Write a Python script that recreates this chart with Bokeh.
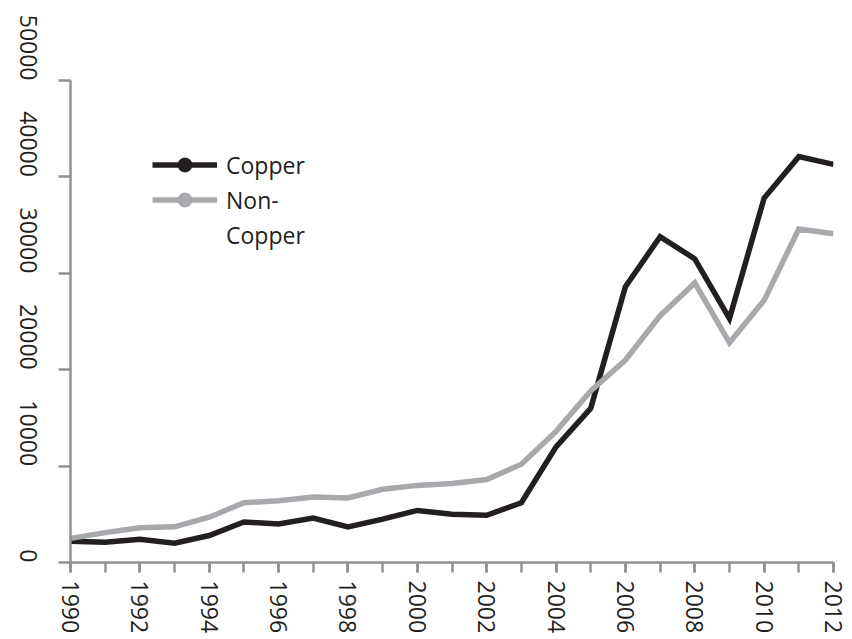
import math
from bokeh.plotting import figure
from bokeh.models import FixedTicker, Legend, LegendItem, Range1d, ColumnDataSource
from bokeh.embed import file_html
from bokeh.resources import INLINE

years = list(range(1990, 2013))
copper = [2200, 2100, 2400, 2000, 2800, 4200, 4000, 4600, 3700, 4500, 5400, 5000,
          4900, 6200, 12000, 16000, 28600, 33800, 31500, 25300, 37800, 42100, 41300]
non_copper = [2500, 3100, 3600, 3700, 4700, 6200, 6400, 6800, 6700, 7600, 8000, 8200,
              8600, 10200, 13600, 17800, 21000, 25600, 29000, 22800, 27200, 34600, 34100]

x_label_years = list(range(1990, 2013, 2))
y_ticks = [0, 10000, 20000, 30000, 40000, 50000]
y_tick_labels = ["0", "10000", "20000", "30000", "40000", "50000"]
legend_lines = ["Copper", "Non-", "Copper"]

FONT = "Open Sans"
AXIS_GRAY = "#8f9194"
TEXT = "#231f20"
CU_COLOR = "#231f20"
NC_COLOR = "#a7a9ac"

src = ColumnDataSource(dict(year=years, copper=copper, non_copper=non_copper))

p = figure(width=852, height=639, output_backend="svg", toolbar_location=None,
           x_range=Range1d(1990, 2012), y_range=Range1d(0, 50000),
           min_border_left=70, min_border_top=80, min_border_right=19, min_border_bottom=77)
p.outline_line_color = None
p.grid.visible = False
p.background_fill_color = "white"
p.border_fill_color = "white"

r_cu = p.line("year", "copper", source=src, line_color=CU_COLOR, line_width=5.5, line_join="miter")
r_nc = p.line("year", "non_copper", source=src, line_color=NC_COLOR, line_width=5.5, line_join="miter")

# hidden marker renderers: only their legend glyphs are shown
m_cu = p.scatter("year", "copper", source=src, size=16, color=CU_COLOR, visible=False)
m_nc = p.scatter("year", "non_copper", source=src, size=16, color=NC_COLOR, visible=False)
r_blank = p.line("year", "non_copper", source=src, line_alpha=0)

xa = p.xaxis[0]
xa.ticker = FixedTicker(ticks=x_label_years, minor_ticks=years)
xa.major_label_overrides = {y: str(y) for y in x_label_years}
xa.major_label_orientation = -math.pi / 2
xa.major_tick_out = 10
xa.major_tick_in = 0
xa.minor_tick_out = 10
xa.minor_tick_in = 0
xa.major_label_standoff = 8

ya = p.yaxis[0]
ya.ticker = FixedTicker(ticks=y_ticks, minor_ticks=[])
ya.major_label_overrides = {t: l for t, l in zip(y_ticks, y_tick_labels)}
ya.major_label_orientation = -math.pi / 2
ya.major_tick_out = 12
ya.major_tick_in = 0
ya.major_label_standoff = 30

for ax in (xa, ya):
    ax.axis_line_color = AXIS_GRAY
    ax.axis_line_width = 2.5
    ax.major_tick_line_color = AXIS_GRAY
    ax.major_tick_line_width = 2.5
    ax.minor_tick_line_color = AXIS_GRAY
    ax.minor_tick_line_width = 2.5
    ax.major_label_text_font = FONT
    ax.major_label_text_font_size = "23px"
    ax.major_label_text_color = TEXT

legend = Legend(items=[LegendItem(label=legend_lines[0], renderers=[r_cu, m_cu]),
                       LegendItem(label=legend_lines[1], renderers=[r_nc, m_nc]),
                       LegendItem(label=legend_lines[2], renderers=[r_blank])],
                location=(82, 310), orientation="vertical")
legend.border_line_color = None
legend.background_fill_alpha = 0
legend.inactive_fill_alpha = 0
legend.padding = 0
legend.margin = 0
legend.spacing = 0
legend.glyph_width = 65
legend.glyph_height = 35
legend.label_height = 27
legend.label_standoff = 9
legend.label_text_font = FONT
legend.label_text_font_size = "23px"
legend.label_text_color = TEXT
p.add_layout(legend)

open("out.html", "w").write(file_html(p, INLINE))
